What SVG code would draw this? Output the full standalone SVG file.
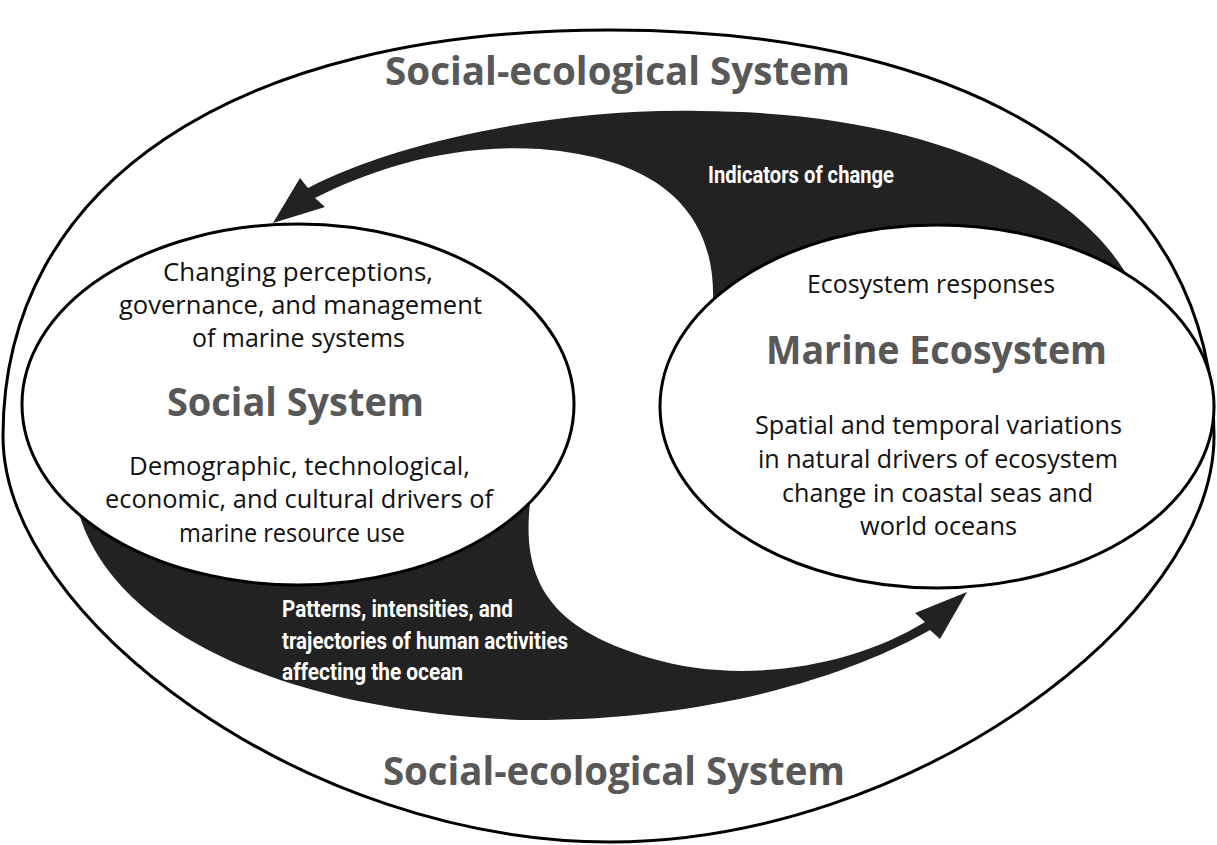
<svg xmlns="http://www.w3.org/2000/svg" width="1217" height="845" viewBox="0 0 1217 845">
<style>
.frame{fill:#fff;stroke:#000;stroke-width:3}
.node{fill:#fff;stroke:#000;stroke-width:3}
.arrow{fill:#222;stroke:none}
.body{font-family:"Open Sans","Noto Sans",sans-serif;font-size:26px;fill:#111;text-anchor:middle}
.head{font-family:"Open Sans","Noto Sans",sans-serif;font-weight:700;font-size:40px;fill:#585858;text-anchor:middle}
.band{font-family:"Liberation Sans Narrow","Roboto",sans-serif;font-weight:700;font-size:24px;fill:#fff}
</style>
<rect width="1217" height="845" fill="#fff"/>
<g id="social-ecological-system">
<path class="frame" d="M3,436 C3,184 234,30 610,30 C986,30 1214,184 1214,436 C1214,618 911,842 610,842 C306,842 3,618 3,436 Z"/>
<text class="head" x="617.5" y="85" textLength="465" lengthAdjust="spacingAndGlyphs">Social-ecological System</text>
<text class="head" x="614" y="785" textLength="462" lengthAdjust="spacingAndGlyphs">Social-ecological System</text>
</g>
<g id="connectors">
<g id="indicators-of-change">
<path class="arrow" d="M300,178 L308,188 C400,140 560,108 700,111 C920,112 1070,180 1127,275 L713,300 C715,230 680,160 540,149 C450,143 370,170 315,198 L325,207 L273,223 Z"/>
<text class="band" x="708" y="183" textLength="186" lengthAdjust="spacingAndGlyphs">Indicators of change</text>
</g>
<g id="human-activities">
<path class="arrow" d="M80,517 C120,640 300,712 520,720 C720,722 860,670 930,630 L940,639 L967,592 L915,613 L925,622 C850,668 740,685 650,658 C560,631 520,590 530,503 Z"/>
<text class="band" x="282" y="617" textLength="231" lengthAdjust="spacingAndGlyphs">Patterns, intensities, and</text>
<text class="band" x="282" y="649" textLength="286" lengthAdjust="spacingAndGlyphs">trajectories of human activities</text>
<text class="band" x="282" y="680" textLength="181" lengthAdjust="spacingAndGlyphs">affecting the ocean</text>
</g>
</g>
<g id="social-system">
<ellipse class="node" cx="298" cy="404.5" rx="276" ry="180.5"/>
<text class="body" x="298" y="281" textLength="270" lengthAdjust="spacingAndGlyphs">Changing perceptions,</text>
<text class="body" x="300.5" y="314" textLength="363" lengthAdjust="spacingAndGlyphs">governance, and management</text>
<text class="body" x="298.5" y="347" textLength="213" lengthAdjust="spacingAndGlyphs">of marine systems</text>
<text class="head" x="295.5" y="416" textLength="257" lengthAdjust="spacingAndGlyphs">Social System</text>
<text class="body" x="299.5" y="475" textLength="341" lengthAdjust="spacingAndGlyphs">Demographic, technological,</text>
<text class="body" x="299" y="508" textLength="388" lengthAdjust="spacingAndGlyphs">economic, and cultural drivers of</text>
<text class="body" x="292" y="541.5" textLength="226" lengthAdjust="spacingAndGlyphs">marine resource use</text>
</g>
<g id="marine-ecosystem">
<ellipse class="node" cx="937" cy="406.5" rx="277" ry="181.5"/>
<text class="body" x="931" y="293" textLength="248" lengthAdjust="spacingAndGlyphs">Ecosystem responses</text>
<text class="head" x="936.5" y="364" textLength="341" lengthAdjust="spacingAndGlyphs">Marine Ecosystem</text>
<text class="body" x="938.5" y="434" textLength="367" lengthAdjust="spacingAndGlyphs">Spatial and temporal variations</text>
<text class="body" x="938" y="468" textLength="360" lengthAdjust="spacingAndGlyphs">in natural drivers of ecosystem</text>
<text class="body" x="937.5" y="501.5" textLength="311" lengthAdjust="spacingAndGlyphs">change in coastal seas and</text>
<text class="body" x="938.5" y="535" textLength="157" lengthAdjust="spacingAndGlyphs">world oceans</text>
</g>
</svg>
